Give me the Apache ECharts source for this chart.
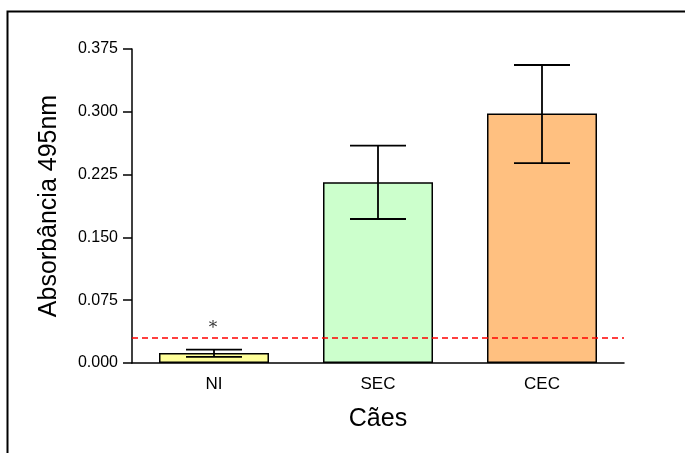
<!DOCTYPE html>
<html>
<head>
<meta charset="utf-8">
<script src="https://cdn.jsdelivr.net/npm/echarts@6/dist/echarts.min.js"></script>
<style>html,body{margin:0;padding:0;background:#fff;}#c{width:685px;height:453px;}</style>
</head>
<body>
<div id="c"></div>
<script>
const categories = ['NI', 'SEC', 'CEC'];
const means = [0.012, 0.216, 0.298];
const errLow = [0.0072, 0.172, 0.2388];
const errHigh = [0.0159, 0.2595, 0.3559];
const barColors = ['#FFFF99', '#CCFFCC', '#FFC080'];
const cutoff = 0.03;
const starCategory = 'NI';
const starValue = 0.045;
const yTicks = [0, 0.075, 0.15, 0.225, 0.3, 0.375];

const chart = echarts.init(document.getElementById('c'));
const font = 'Liberation Sans, Arial, sans-serif';
chart.setOption({
  animation: false,
  backgroundColor: '#fff',
  grid: { left: 132, right: 61, top: 49, bottom: 90, containLabel: false },
  graphic: [{
    type: 'rect', left: 5, top: 9, z: 0,
    shape: { width: 700, height: 460 },
    style: { fill: 'none', stroke: '#000', lineWidth: 2 }
  }],
  xAxis: {
    type: 'category', data: categories,
    name: 'Cães', nameLocation: 'middle', nameGap: 44,
    nameTextStyle: { fontFamily: font, fontSize: 25, color: '#000' },
    axisLine: { lineStyle: { color: '#000', width: 1.5 } },
    axisTick: { alignWithLabel: true, length: 9, lineStyle: { color: '#000', width: 1.5 } },
    axisLabel: { fontFamily: font, fontSize: 17, color: '#000', margin: 13 }
  },
  yAxis: {
    type: 'value', min: 0, max: 0.375, interval: 0.075,
    name: 'Absorbância 495nm', nameLocation: 'middle', nameGap: 70,
    nameTextStyle: { fontFamily: font, fontSize: 25, color: '#000' },
    axisLine: { show: true, lineStyle: { color: '#000', width: 1.5 } },
    axisTick: { show: true, length: 9, lineStyle: { color: '#000', width: 1.5 } },
    axisLabel: { fontFamily: font, fontSize: 16, color: '#000', margin: 14,
      formatter: v => v.toFixed(3) },
    splitLine: { show: false }
  },
  series: [
    {
      type: 'bar', barWidth: 110,
      data: means.map((v, i) => ({ value: v, itemStyle: { color: barColors[i] } })),
      itemStyle: { borderColor: '#000', borderWidth: 1.5 },
      markLine: {
        symbol: 'none', silent: true, label: { show: false },
        lineStyle: { color: '#ff0000', type: [6, 4], width: 1.5 },
        data: [{ yAxis: cutoff }]
      },
      z: 2
    },
    {
      type: 'custom', z: 5,
      data: categories.map((c, i) => [i, errLow[i], errHigh[i]]),
      renderItem: function (params, api) {
        const x = api.value(0);
        const lo = api.coord([x, api.value(1)]);
        const hi = api.coord([x, api.value(2)]);
        const hw = 28;
        const st = { stroke: '#000', lineWidth: 1.8 };
        return { type: 'group', children: [
          { type: 'line', shape: { x1: lo[0], y1: lo[1], x2: hi[0], y2: hi[1] }, style: st },
          { type: 'line', shape: { x1: lo[0] - hw, y1: lo[1], x2: lo[0] + hw, y2: lo[1] }, style: st },
          { type: 'line', shape: { x1: hi[0] - hw, y1: hi[1], x2: hi[0] + hw, y2: hi[1] }, style: st }
        ]};
      }
    },
    {
      type: 'custom', z: 6,
      data: [[categories.indexOf(starCategory), starValue]],
      renderItem: function (params, api) {
        const p = api.coord([api.value(0), api.value(1)]);
        return { type: 'text', x: p[0] - 1, y: p[1] + 3,
          style: { text: '*', fill: '#333', fontSize: 17, fontFamily: 'DejaVu Serif, serif', align: 'center', verticalAlign: 'middle' } };
      }
    }
  ]
});
</script>
</body>
</html>
